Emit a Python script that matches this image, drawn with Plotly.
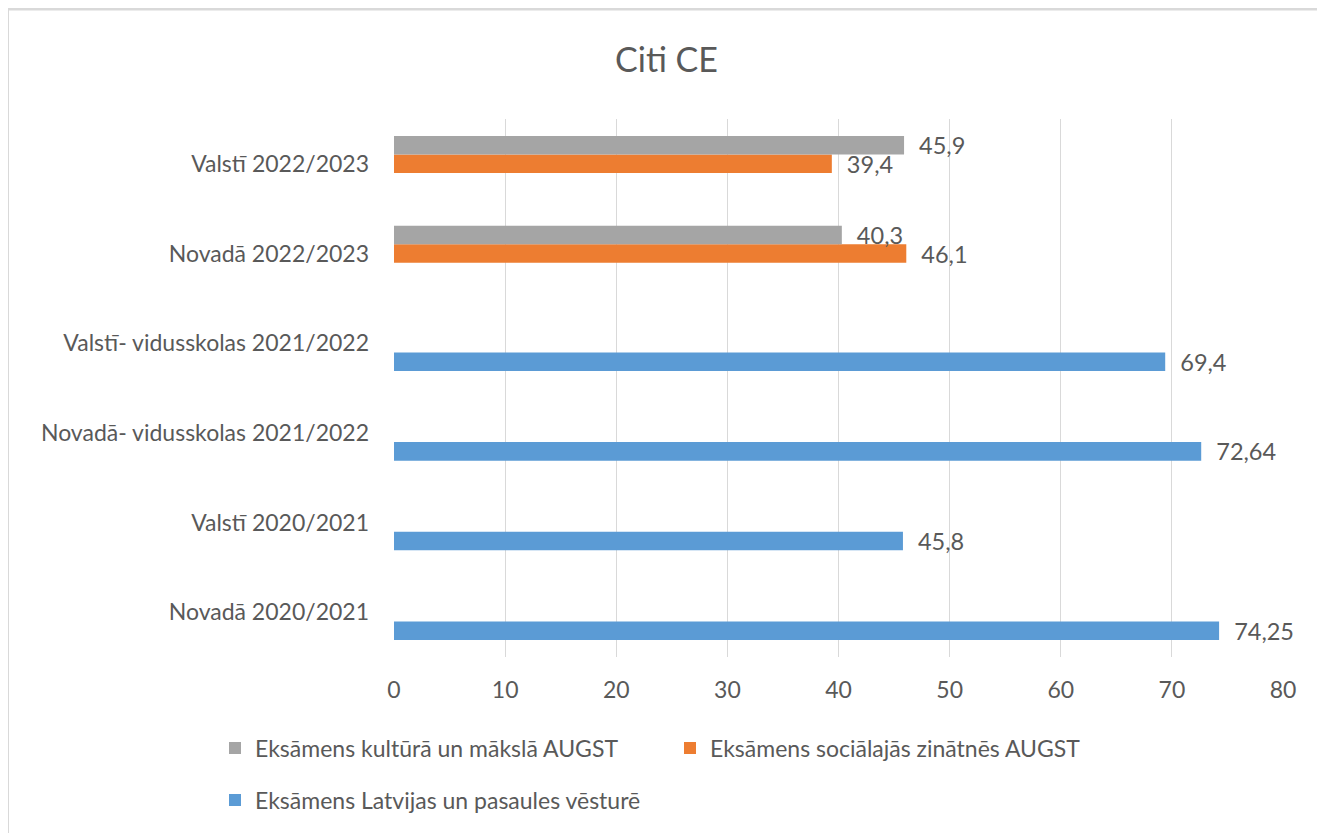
import plotly.graph_objects as go

categories = [
    "Novadā 2020/2021",
    "Valstī 2020/2021",
    "Novadā- vidusskolas 2021/2022",
    "Valstī- vidusskolas 2021/2022",
    "Novadā 2022/2023",
    "Valstī 2022/2023",
]
vesture = [74.25, 45.8, 72.64, 69.4, None, None]
socialas = [None, None, None, None, 46.1, 39.4]
kultura = [None, None, None, None, 40.3, 45.9]

series_names = [
    "Eksāmens Latvijas un pasaules vēsturē",
    "Eksāmens sociālajās zinātnēs AUGST",
    "Eksāmens kultūrā un mākslā AUGST",
]
colors = ["#5B9BD5", "#ED7D31", "#A5A5A5"]
x_ticks = [0, 10, 20, 30, 40, 50, 60, 70, 80]
title_text = "Citi CE"

FONT = "Lato"
TXT = "#595959"

# page offset (default body margin) and target geometry in page px
OFF = 8
W, H = 1325 - OFF, 833 - OFF
PL, PR, PT, PB = 394 - OFF, 1283 - OFF, 119 - OFF, 657 - OFF


def px_x(x):
    return (x - OFF - PL) / (PR - PL)


def px_y(y):
    return (PB - (y - OFF)) / (PB - PT)


def lab(vals):
    return ["\u00a0\u00a0" + (f"{v:g}".replace(".", ",")) if v is not None else "" for v in vals]


fig = go.Figure()
legends = ["legend2", "legend", "legend"]
for vals, name, col, lg in zip([vesture, socialas, kultura], series_names, colors, legends):
    fig.add_trace(go.Bar(
        y=categories, x=vals, name=name, orientation="h",
        marker=dict(color=col, line=dict(width=0)),
        text=lab(vals), textposition="outside", constraintext="none",
        textfont=dict(family=FONT, size=23.5, color=TXT),
        cliponaxis=False, legend=lg,
    ))

fig.update_layout(
    width=W, height=H,
    paper_bgcolor="white", plot_bgcolor="white",
    margin=dict(l=PL, r=W - PR, t=PT, b=H - PB, autoexpand=False),
    barmode="group", bargap=0.38, bargroupgap=0,
    font=dict(family=FONT, color=TXT, size=23),
    title=dict(text=title_text, x=0.5, xanchor="center", y=1 - (60 - OFF) / H, yanchor="middle",
               font=dict(family=FONT, size=34, color=TXT)),
    xaxis=dict(range=[0, 80], tickvals=x_ticks, showgrid=True, gridcolor="#d9d9d9", gridwidth=1,
               zeroline=False, showline=False, ticks="", tickfont=dict(size=23, color=TXT),
               ticklabelstandoff=17, fixedrange=True),
    yaxis=dict(type="category", categoryorder="array", categoryarray=categories,
               showgrid=False, zeroline=False, showline=False, ticks="",
               tickfont=dict(size=23, color=TXT), ticklabelstandoff=24, fixedrange=True),
    legend=dict(orientation="h", x=px_x(215), xanchor="left", y=px_y(748), yanchor="middle",
                traceorder="reversed", entrywidth=410, entrywidthmode="pixels",
                font=dict(size=23, color=TXT), bgcolor="rgba(0,0,0,0)"),
    legend2=dict(orientation="h", x=px_x(215), xanchor="left", y=px_y(800), yanchor="middle",
                 font=dict(size=23, color=TXT), bgcolor="rgba(0,0,0,0)"),
    showlegend=True,
    shapes=[
        dict(type="line", xref="paper", yref="paper", x0=px_x(6), x1=px_x(1325), y0=px_y(9), y1=px_y(9),
             line=dict(color="#d9d9d9", width=3)),
        dict(type="line", xref="paper", yref="paper", x0=px_x(7.5), x1=px_x(7.5), y0=px_y(9), y1=px_y(840),
             line=dict(color="#d9d9d9", width=3)),
        dict(type="line", xref="paper", yref="paper", x0=px_x(1323), x1=px_x(1323), y0=px_y(9), y1=px_y(840),
             line=dict(color="#eeeeee", width=1)),
    ],
)

fig.write_html("out.html")
